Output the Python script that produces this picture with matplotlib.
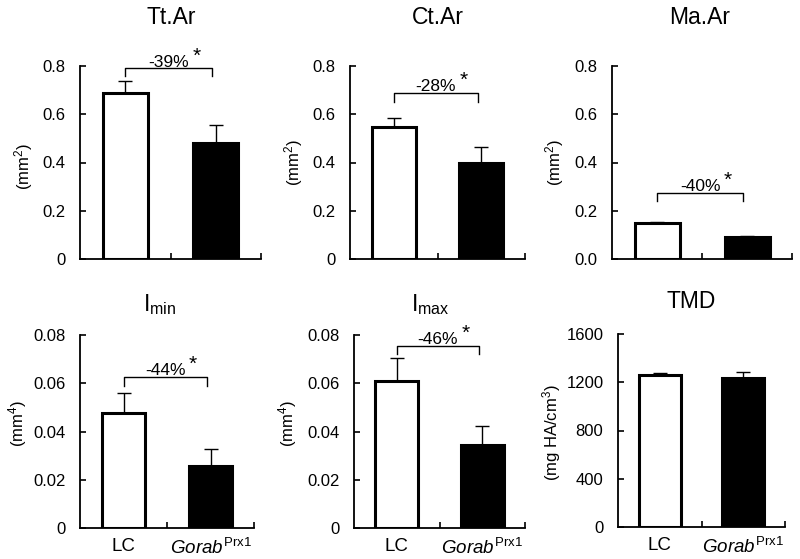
"""
Six-panel bar chart: cortical bone parameters, LC vs Gorab^Prx1.
"""
import matplotlib
matplotlib.use("Agg")
import matplotlib.pyplot as plt

plt.rcParams["font.family"] = ["Liberation Sans", "DejaVu Sans"]
plt.rcParams["mathtext.fontset"] = "custom"
plt.rcParams["mathtext.rm"] = "Liberation Sans"
plt.rcParams["mathtext.it"] = "Liberation Sans:italic"

groups = ["LC", r"$\mathit{Gorab}^{\mathrm{Prx1}}$"]

titles = ["Tt.Ar", "Ct.Ar", "Ma.Ar", r"I$_{\mathrm{min}}$", r"I$_{\mathrm{max}}$", "TMD"]
units = [r"(mm$^2$)", r"(mm$^2$)", r"(mm$^2$)", r"(mm$^4$)", r"(mm$^4$)", r"(mg HA/cm$^3$)"]

means = [
    [0.688, 0.481],
    [0.547, 0.398],
    [0.149, 0.091],
    [0.0475, 0.0257],
    [0.0611, 0.0344],
    [1260, 1233],
]
sems = [
    [0.050, 0.074],
    [0.038, 0.066],
    [0.004, 0.004],
    [0.0083, 0.0070],
    [0.0093, 0.0079],
    [19, 54],
]

yticks = [
    [0, 0.2, 0.4, 0.6, 0.8],
    [0, 0.2, 0.4, 0.6, 0.8],
    [0, 0.2, 0.4, 0.6, 0.8],
    [0, 0.02, 0.04, 0.06, 0.08],
    [0, 0.02, 0.04, 0.06, 0.08],
    [0, 400, 800, 1200, 1600],
]
ytick_labels = [
    ["0", "0.2", "0.4", "0.6", "0.8"],
    ["0", "0.2", "0.4", "0.6", "0.8"],
    ["0.0", "0.2", "0.4", "0.6", "0.8"],
    ["0", "0.02", "0.04", "0.06", "0.08"],
    ["0", "0.02", "0.04", "0.06", "0.08"],
    ["0", "400", "800", "1200", "1600"],
]

# significance brackets: label, bracket height, foot height (None = no bracket)
sig_labels = ["-39%", "-28%", "-40%", "-44%", "-46%", None]
sig_top = [0.79, 0.688, 0.274, 0.0627, 0.0754, None]
sig_foot = [0.76, 0.65, 0.24, 0.0589, 0.0721, None]

W, H = 800, 559
# axes boxes in pixels: left, top, right, bottom
boxes = [
    (80, 66, 261, 259),
    (350, 66, 525, 259),
    (612, 66, 792, 259),
    (80, 335, 254, 528),
    (354, 335, 525, 528),
    (618, 334, 785, 527),
]
title_pos = [(171, 17), (438, 17), (700, 17), (160, 305), (430, 305), (691, 302)]
ylabel_pos = [(-0.31, 0.48), (-0.32, 0.50), (-0.317, 0.50), (-0.36, 0.54), (-0.39, 0.54), (-0.395, 0.49)]

fig = plt.figure(figsize=(W / 100, H / 100), dpi=100)

for i in range(6):
    l, t, r, b = boxes[i]
    ax = fig.add_axes([l / W, 1 - b / H, (r - l) / W, (b - t) / H])
    x = [0, 1]
    ax.bar(x, means[i], width=0.5, color=["white", "black"], edgecolor="black",
           linewidth=2.2, zorder=3)
    ax.errorbar(x, means[i], yerr=[[0, 0], sems[i]], fmt="none", ecolor="black",
                elinewidth=1.0, capsize=5, capthick=1.0, zorder=2)
    ax.set_xlim(-0.5, 1.5)
    ax.set_ylim(0, yticks[i][-1])
    ax.set_yticks(yticks[i], ytick_labels[i])
    ax.set_xticks([0.5, 1.5], ["", ""])
    ax.tick_params(direction="in", length=4, width=1.2, labelsize=12)
    ax.tick_params(axis="y", pad=10.5)
    for s in ["top", "right"]:
        ax.spines[s].set_visible(False)
    for s in ["left", "bottom"]:
        ax.spines[s].set_linewidth(1.3)
    if i >= 3:
        ax.set_xticks(x, groups, minor=True)
        ax.tick_params(axis="x", which="minor", length=0, labelsize=13.5, pad=7)

    ax.text(ylabel_pos[i][0], ylabel_pos[i][1], units[i], transform=ax.transAxes,
            rotation=90, ha="center", va="center", fontsize=12)

    tx, ty = title_pos[i]
    fig.text(tx / W, 1 - ty / H, titles[i], ha="center", va="center", fontsize=16.5)

    if sig_labels[i] is not None:
        ax.plot([0, 0, 0.96, 0.96], [sig_foot[i], sig_top[i], sig_top[i], sig_foot[i]],
                color="black", linewidth=1.0, clip_on=False)
        ax.annotate(sig_labels[i], xy=(0.48, sig_top[i]), xytext=(0, 4.5),
                    textcoords="offset points", ha="center", va="center",
                    fontsize=12.5, annotation_clip=False)
        ax.annotate("*", xy=(0.48, sig_top[i]), xytext=(17, 9),
                    textcoords="offset points", ha="left", va="center",
                    fontsize=15, annotation_clip=False)

fig.savefig("out.png", dpi=100)
